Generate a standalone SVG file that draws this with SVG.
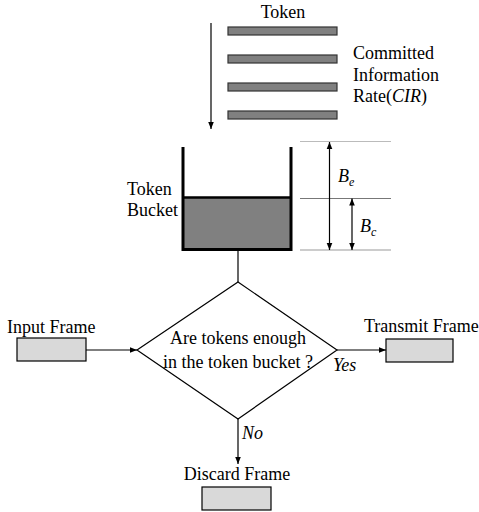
<svg xmlns="http://www.w3.org/2000/svg" width="479" height="512" viewBox="0 0 479 512">
  <style>
    text { font-family: "Liberation Serif", "Times New Roman", serif; font-size: 18px; fill: #000; }
    .it { font-style: italic; }
    .sub { font-size: 12px; font-style: italic; }
    .token { fill: #808080; stroke: #333; stroke-width: 1.2; }
    .frame { fill: #d9d9d9; stroke: #000; stroke-width: 1.2; }
    .line { stroke: #000; stroke-width: 1.2; fill: none; }
    .wall { stroke: #000; stroke-width: 3; fill: none; }
    .level { stroke-width: 1; }
  </style>
  <defs>
    <marker id="arrow" viewBox="0 0 10 10" refX="10" refY="5" markerWidth="7" markerHeight="7" orient="auto-start-reverse" markerUnits="userSpaceOnUse">
      <path d="M0,1 L10,5 L0,9 z" fill="#000"/>
    </marker>
  </defs>

  <!-- token stream -->
  <g id="tokens">
    <text x="283" y="18" text-anchor="middle">Token</text>
    <rect class="token" x="228" y="27" width="109" height="8"/>
    <rect class="token" x="228" y="55" width="109" height="8"/>
    <rect class="token" x="228" y="83" width="109" height="8"/>
    <rect class="token" x="228" y="111" width="109" height="8"/>
  </g>

  <g id="cir-label">
    <text x="353" y="59">Committed</text>
    <text x="353" y="81">Information</text>
    <text x="353" y="102">Rate(<tspan class="it">CIR</tspan>)</text>
  </g>

  <!-- bucket -->
  <g id="bucket">
    <rect x="183" y="197.5" width="108" height="52" fill="#808080"/>
    <path class="wall" d="M183,147 V249.5 H291 V147"/>
    <line x1="183" y1="197.5" x2="291" y2="197.5" stroke="#000" stroke-width="2.5"/>
    <text x="127" y="195">Token</text>
    <text x="127" y="216">Bucket</text>
  </g>

  <!-- burst sizes -->
  <g id="burst">
    <line class="level" x1="300" y1="141.5" x2="391" y2="141.5" stroke="#bbb"/>
    <line class="level" x1="300" y1="198.5" x2="391" y2="198.5" stroke="#777"/>
    <line class="level" x1="300" y1="250" x2="391" y2="250" stroke="#999"/>
    <text x="338" y="182" class="it">B<tspan class="sub" dy="4">e</tspan></text>
    <text x="360" y="232" class="it">B<tspan class="sub" dy="4">c</tspan></text>
  </g>

  <g id="input">
    <text x="7" y="333">Input Frame</text>
    <rect class="frame" x="17" y="338" width="69" height="23"/>
  </g>

  <g id="decision">
    <path class="line" d="M238,282 L337,350 L238,419 L137,350 Z"/>
    <text x="238" y="344" text-anchor="middle">Are tokens enough</text>
    <text x="238" y="368" text-anchor="middle">in the token bucket ?</text>
  </g>

  <g id="transmit">
    <text x="364" y="332">Transmit Frame</text>
    <rect class="frame" x="386" y="339" width="67" height="23"/>
  </g>

  <g id="discard">
    <text x="237" y="480" text-anchor="middle">Discard Frame</text>
    <rect class="frame" x="202" y="487" width="69" height="23"/>
  </g>

  <!-- connectors -->
  <g id="connectors">
    <line class="line" x1="211" y1="23" x2="211" y2="129" marker-end="url(#arrow)"/>
    <line class="line" x1="329.5" y1="142" x2="329.5" y2="250" marker-start="url(#arrow)" marker-end="url(#arrow)"/>
    <line class="line" x1="352" y1="198.5" x2="352" y2="250" marker-start="url(#arrow)" marker-end="url(#arrow)"/>
    <line class="line" x1="238" y1="251" x2="238" y2="282"/>
    <line class="line" x1="86" y1="350" x2="137" y2="350" marker-end="url(#arrow)"/>
    <line class="line" x1="337" y1="350" x2="386" y2="350" marker-end="url(#arrow)"/>
    <line class="line" x1="238" y1="419" x2="238" y2="464" marker-end="url(#arrow)"/>
    <text x="333" y="371" class="it">Yes</text>
    <text x="242" y="439" class="it">No</text>
  </g>
</svg>
